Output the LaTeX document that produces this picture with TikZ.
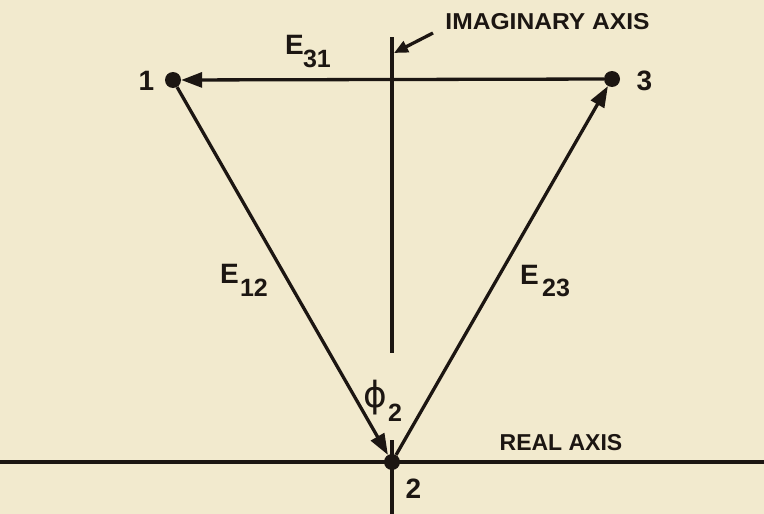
\documentclass[tikz,border=0pt]{standalone}
\usepackage{fontspec}
\setmainfont{Liberation Sans}
\newfontfamily\phifont{DejaVu Sans}
\usetikzlibrary{arrows.meta}
\definecolor{paper}{RGB}{242,234,206}
\definecolor{ink}{RGB}{28,22,18}
\begin{document}
\begin{tikzpicture}[x=1pt,y=-1pt,
  vertex/.style={circle,fill=ink,draw=none,minimum size=16pt,inner sep=0pt},
  edge/.style={draw=ink,line width=3.3pt,-{Triangle[length=21pt,width=15pt]}},
  axisline/.style={draw=ink,line width=3.1pt},
  lbl/.style={inner sep=0pt,text=ink,font=\fontsize{28}{30}\selectfont\bfseries},
  sub/.style={inner sep=0pt,text=ink,font=\fontsize{25}{27}\selectfont\bfseries},
  axlbl/.style={inner sep=0pt,text=ink,font=\fontsize{23}{25}\selectfont\bfseries}]
\fill[paper] (0,0) rectangle (764,514);
\useasboundingbox (0,0) rectangle (764,514);
% axes
\coordinate (vtop) at (392,37);
\coordinate (vmid) at (392,353);
\coordinate (vlow) at (392,440);
\coordinate (vbot) at (392,514);
\coordinate (hl) at (0,462);
\coordinate (hr) at (764,462);
\draw[axisline] (vtop) -- (vmid);
\draw[axisline] (vlow) -- (vbot);
\draw[axisline] (hl) -- (hr);
% vertices
\node[vertex] (n1) at (173,80) {};
\node[vertex] (n3) at (612,79) {};
\node[vertex] (n2) at (392,462) {};
% edges
\draw[edge] (n3) -- (n1);
\draw[edge] (n1) -- (n2);
\draw[edge] (n2) -- (n3);
% vertex labels
\node[lbl] (l1) at (146.5,80.5) {1};
\node[lbl] (l3) at (644.5,80.5) {3};
\node[lbl] (l2) at (413.5,489) {2};
% edge labels
\node[lbl] (e31) at (294.5,45) {E};
\node[sub] (e31s) at (317,58.5) {31};
\node[lbl] (e12) at (229.5,274) {E};
\node[sub] (e12s) at (254,287.5) {12};
\node[lbl] (e23) at (529.5,274.5) {E};
\node[sub] (e23s) at (556,287.5) {23};
\node[inner sep=0pt,text=ink,font=\fontsize{36}{38}\phifont] (phi) at (375.5,397.5) {ϕ};
\node[sub] (phis) at (395,412.5) {2};
% axis labels
\node[axlbl,xscale=1.07] (imag) at (547.5,21.5) {IMAGINARY AXIS};
\node[axlbl] (real) at (561,442.5) {REAL AXIS};
\coordinate (ptr) at (433,33);
\coordinate (ptrend) at (394,53);
\draw[draw=ink,line width=3.3pt,-{Triangle[length=14pt,width=12pt]}] (ptr) -- (ptrend);
\end{tikzpicture}
\end{document}
